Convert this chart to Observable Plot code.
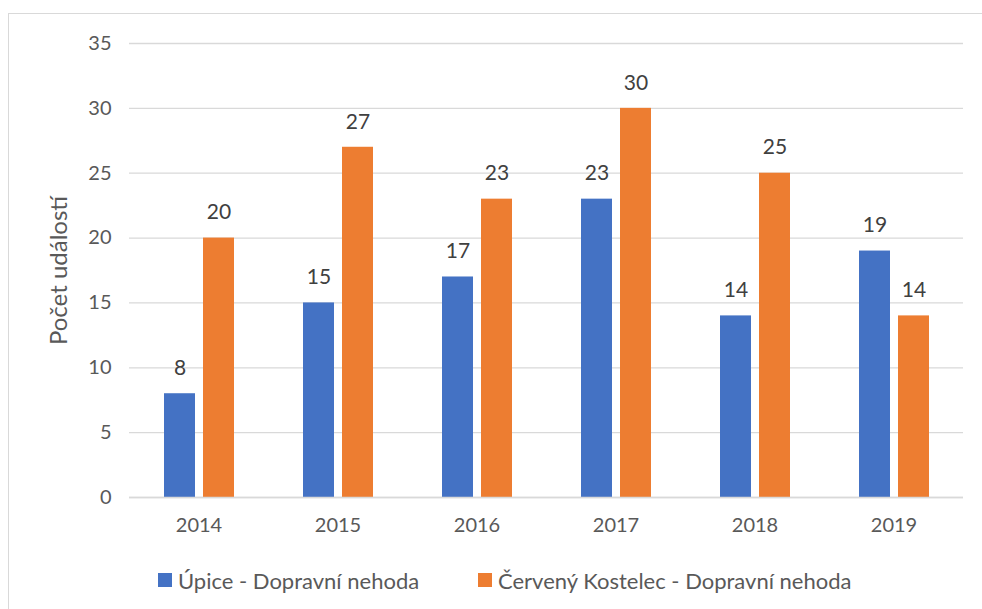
<!DOCTYPE html>
<html>
<head>
<meta charset="utf-8">
<script src="https://cdn.jsdelivr.net/npm/d3@7"></script>
<script src="https://cdn.jsdelivr.net/npm/@observablehq/plot@0.6"></script>
<style>
  html, body { margin: 0; padding: 0; background: #fff; }
  #wrap { position: relative; width: 982px; height: 609px; overflow: hidden; font-family: Lato, "Open Sans", sans-serif; }
  #frame { position: absolute; left: 8px; top: 13px; width: 1100px; height: 800px; border: 1.5px solid #d9d9d9; box-sizing: border-box; }
  #chart { position: absolute; left: 0; top: 0; }
  #legend { position: absolute; left: 0; top: 565px; width: 982px; height: 30px; font-size: 22px; color: #595959; }
  .item { position: absolute; display: flex; align-items: center; top: 0; height: 30px; }
  .sw { width: 14px; height: 14px; margin-right: 6px; }
</style>
</head>
<body>
<div id="wrap">
  <div id="frame"></div>
  <div id="chart"></div>
  <div id="legend"></div>
</div>
<script>
const years = ["2014", "2015", "2016", "2017", "2018", "2019"];
const seriesNames = ["Úpice - Dopravní nehoda", "Červený Kostelec - Dopravní nehoda"];
const upice = [8, 15, 17, 23, 14, 19];
const kostelec = [20, 27, 23, 30, 25, 14];
const yTicks = [0, 5, 10, 15, 20, 25, 30, 35];
const colors = ["#4472C4", "#ED7D31"];
const yLabel = "Počet událostí";

const data = years.flatMap((y, i) => [
  {year: y, series: seriesNames[0], value: upice[i]},
  {year: y, series: seriesNames[1], value: kostelec[i]}
]);

const chart = Plot.plot({
  width: 982,
  height: 545,
  marginLeft: 126,
  marginRight: 17,
  marginTop: 43,
  marginBottom: 48,
  style: {fontFamily: "Lato, 'Open Sans', sans-serif", fontSize: "20px", color: "#595959", background: "transparent"},
  fx: {domain: years, padding: 0, label: null},
  x: {domain: seriesNames, paddingInner: 0.2125, paddingOuter: 0.85, axis: null},
  y: {domain: [0, 35]},
  color: {domain: seriesNames, range: colors},
  marks: [
    Plot.gridY(yTicks, {stroke: "#d9d9d9", strokeOpacity: 1, strokeWidth: 1.3}),
    Plot.axisY(yTicks, {tickSize: 0, tickPadding: 18, label: yLabel, labelAnchor: "center", labelArrow: "none", labelOffset: 80, fontSize: 20}),
    Plot.axisFx({anchor: "bottom", tickSize: 0, tickPadding: 20, label: null, fontSize: 20}),
    Plot.barY(data, {fx: "year", x: "series", y: "value", fill: "series"}),
    Plot.ruleY([0], {stroke: "#d9d9d9", strokeWidth: 1.5}),
    Plot.text(data, {fx: "year", x: "series", y: "value", text: "value", dy: -25.5, fill: "#404040", fontSize: 21})
  ]
});
d3.select(chart).selectAll("[aria-label='y-axis label'] text, [aria-label='y-axis label']")
  .attr("font-size", 24);
document.getElementById("chart").appendChild(chart);

const legend = document.getElementById("legend");
const lefts = [158, 478];
seriesNames.forEach((name, i) => {
  const item = document.createElement("div");
  item.className = "item";
  item.style.left = lefts[i] + "px";
  const sw = document.createElement("div");
  sw.className = "sw";
  sw.style.background = colors[i];
  const t = document.createElement("span");
  t.textContent = name;
  item.appendChild(sw);
  item.appendChild(t);
  legend.appendChild(item);
});
</script>
</body>
</html>
